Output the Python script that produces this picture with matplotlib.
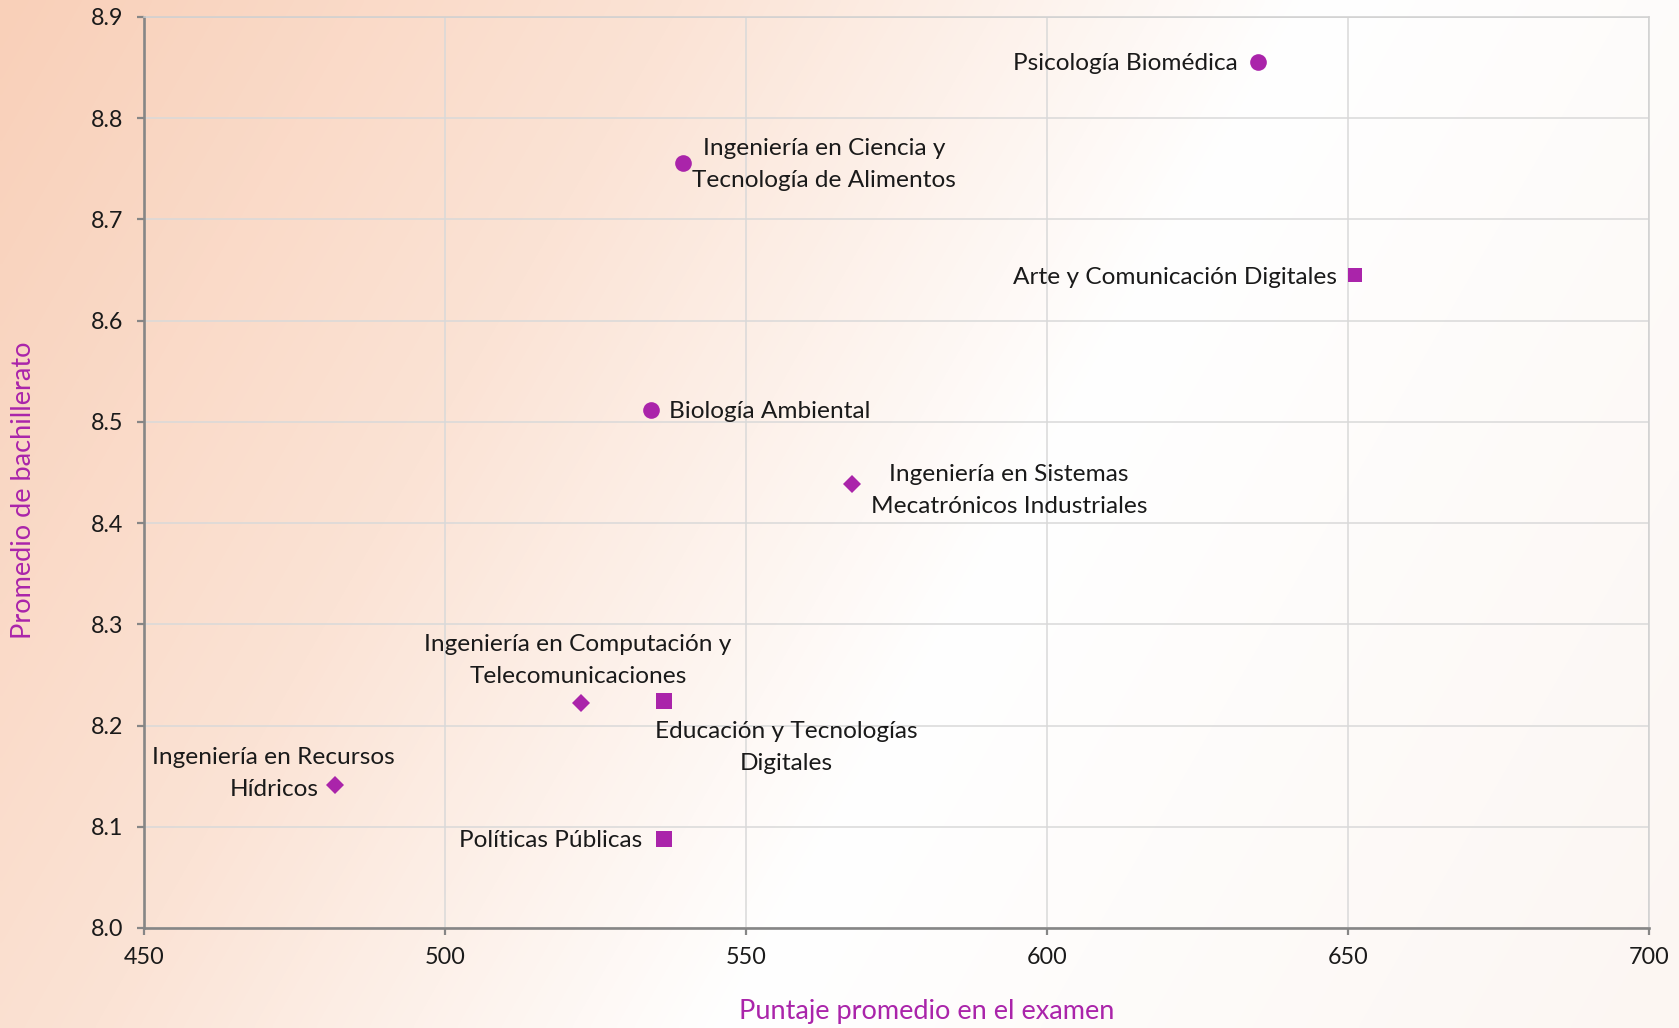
import numpy as np
import matplotlib
matplotlib.use("Agg")
import matplotlib.pyplot as plt
from matplotlib.colors import LinearSegmentedColormap

# ---------------- data ----------------
carreras = [
    "Psicología Biomédica",
    "Ingeniería en Ciencia y\nTecnología de Alimentos",
    "Biología Ambiental",
    "Ingeniería en Sistemas\nMecatrónicos Industriales",
    "Ingeniería en Computación y\nTelecomunicaciones",
    "Ingeniería en Recursos\nHídricos",
    "Arte y Comunicación Digitales",
    "Educación y Tecnologías\nDigitales",
    "Políticas Públicas",
]
puntaje = [635.0, 539.5, 534.3, 567.6, 522.6, 481.7, 651.2, 536.3, 536.3]
promedio = [8.856, 8.756, 8.512, 8.439, 8.222, 8.141, 8.645, 8.224, 8.088]
grupo = ["A", "A", "A", "B", "B", "B", "C", "C", "C"]

x_ticks = [450, 500, 550, 600, 650, 700]
y_ticks = [8.0, 8.1, 8.2, 8.3, 8.4, 8.5, 8.6, 8.7, 8.8, 8.9]

# ---------------- style ----------------
plt.rcParams["font.family"] = ["Lato", "DejaVu Sans"]
PURPLE = "#AA24AA"
W, H = 1679, 1028
DPI = 100

marker_style = {"A": ("o", 12), "B": ("D", 9.6), "C": ("s", 11.5)}
size_override = {6: 9.5}

# label offsets in pixels (dx, dy) and alignment
label_pos = [
    (-20, -2, "right"),
    (141, -2, "center"),
    (18, -2, "left"),
    (157, -7, "center"),
    (-3, 43, "center"),
    (-61, 12, "center"),
    (-18, -2, "right"),
    (123, -46, "center"),
    (-21, -2, "right"),
]

fig = plt.figure(figsize=(W / DPI, H / DPI), dpi=DPI)

# background gradient
bg = fig.add_axes([0, 0, 1, 1], zorder=-10)
xx, yy = np.meshgrid(np.linspace(0, 1, 400), np.linspace(0, 1, 250))
t = xx + 0.35 * yy  # yy = 0 at top (image origin upper)
cmap = LinearSegmentedColormap.from_list(
    "bg", [(0.0, "#F9D0B9"), (0.30, "#FBE3D5"), (0.58, "#FFFFFF"), (1.0, "#FCF6F2")]
)
bg.imshow(t / t.max(), cmap=cmap, aspect="auto", extent=[0, 1, 0, 1],
          origin="upper", interpolation="bilinear", vmin=0, vmax=1)
bg.set_axis_off()

left, right, top, bottom = 144, 1649, 17, 928
ax = fig.add_axes([left / W, 1 - bottom / H, (right - left) / W, (bottom - top) / H])
ax.patch.set_alpha(0)

for i in range(len(carreras)):
    m, ms = marker_style[grupo[i]]
    ms = size_override.get(i, ms)
    ax.plot(puntaje[i], promedio[i], marker=m, markersize=ms, color=PURPLE,
            markeredgewidth=0, linestyle="none", zorder=5, clip_on=False)
    dx, dy, ha = label_pos[i]
    ax.annotate(carreras[i], (puntaje[i], promedio[i]), xytext=(dx, dy),
                textcoords="offset pixels", ha=ha, va="center", fontsize=17.6,
                color="#1A1A1A", linespacing=1.62, zorder=6)

ax.set_xlim(450, 700)
ax.set_ylim(8.0, 8.9)
ax.set_xticks(x_ticks)
ax.set_yticks(y_ticks)
ax.set_xticklabels([str(v) for v in x_ticks])
ax.set_yticklabels([f"{v:.1f}" for v in y_ticks])
ax.grid(True, color="#D9D9D9", linewidth=1.1, zorder=0)
ax.set_axisbelow(True)

for s in ["top", "right"]:
    ax.spines[s].set_color("#D0D0D0")
    ax.spines[s].set_linewidth(1.1)
for s in ["left", "bottom"]:
    ax.spines[s].set_color("#868686")
    ax.spines[s].set_linewidth(1.9)
ax.tick_params(axis="both", which="both", direction="out", length=5, width=1.6,
               color="#868686", labelsize=16.8, labelcolor="#1A1A1A")
ax.tick_params(axis="y", pad=10)
ax.tick_params(axis="x", pad=9)

fig.text(24 / W, 1 - 490 / H, "Promedio de bachillerato", rotation=90,
         ha="center", va="center", fontsize=19.5, color=PURPLE)
fig.text(927 / W, 1 - 1012 / H, "Puntaje promedio en el examen",
         ha="center", va="center", fontsize=19.5, color=PURPLE)

fig.savefig("out.png", dpi=DPI)
